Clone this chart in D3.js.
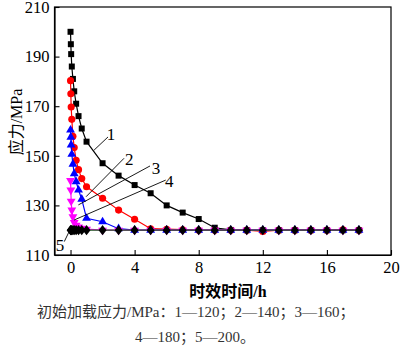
<!DOCTYPE html>
<html><head><meta charset="utf-8">
<script src="https://cdn.jsdelivr.net/npm/d3@7"></script>
<style>
html,body{margin:0;padding:0;background:#fff;}
text{font-family:"Liberation Serif","Times New Roman","Noto Sans CJK SC",serif;}
</style></head>
<body><svg id="c" width="400" height="347"></svg>
<script>
const times = [0, 0.02, 0.04, 0.08, 0.15, 0.23, 0.35, 0.5, 0.7, 1.0, 2, 3, 4, 5, 6, 7, 8, 9, 10, 11, 12, 13, 14, 15, 16, 17, 18];
const s1 = [200, 195, 191, 186, 181, 176, 171, 166, 161, 155.7, 147, 142, 138.2, 134.9, 130, 127.1, 124.5, 121, 120.1, 120, 120, 120, 120, 120, 120, 120, 120];
const s2 = [180.3, 175, 169.7, 164.7, 157.9, 153.3, 148.2, 144.4, 140.8, 137.5, 132.9, 128.1, 124.4, 120.6, 120.4, 120.2, 120, 120, 120, 120, 119.5, 120, 120, 120, 120, 120.2, 120];
const s3 = [160.4, 157.5, 154.4, 150.6, 146.6, 142.8, 139.6, 136.2, 132.5, 124.8, 123.4, 120.6, 120, 120, 120, 120, 120, 120, 120, 120, 120, 120, 120, 120, 120, 120, 120];
const s4 = [140, 136.2, 131.7, 128.1, 125.4, 123.1, 122, 121.3, 120.8, 120.4, 120, 120, 120, 120, 120, 120, 120, 120, 120, 120, 120, 120, 120, 120, 120, 120, 120];
const s5 = [120, 120, 120, 120, 120, 120, 120, 120, 120, 120, 120, 120, 120, 120, 120, 120, 120, 120, 120, 120, 120, 120, 120, 120, 120, 120, 120];
const xTicks = [0, 4, 8, 12, 16, 20];
const yTicks = [110, 130, 150, 170, 190, 210];
const labelNames = ["1", "2", "3", "4", "5"];
// annotation label centers and leader lines in data units
const labelX = [2.53, 3.67, 5.33, 6.16, -0.66];
const labelY = [158.8, 148.6, 145.0, 139.8, 114.0];
const leadFromX = [1.47, 0.97, 0.49, 0.22, -0.39];
const leadFromY = [152.3, 133.5, 130.2, 124.1, 115.4];
const leadToX = [2.34, 3.34, 4.96, 5.94, -0.09];
const leadToY = [157.6, 149.0, 145.9, 140.2, 119.4];
const xTitle = "时效时间/h";
const yTitle = "应力/MPa";
const caption1 = "初始加载应力/MPa：1—120；2—140；3—160；";
const caption2 = "4—180；5—200。";

const svg = d3.select("#c");
const L = 54.5, R = 391, T = 7, B = 255;
const x = d3.scaleLinear().domain([-1, 20]).range([L, R]);
const y = d3.scaleLinear().domain([110, 210]).range([B, T]);

// frame
svg.append("rect").attr("x", L).attr("y", T).attr("width", R - L).attr("height", B - T)
  .attr("fill", "none").attr("stroke", "#000").attr("stroke-width", 1.2);

const xa = svg.append("g").attr("transform", `translate(0,${B})`)
  .call(d3.axisBottom(x).tickValues(xTicks).tickSizeInner(-5).tickSizeOuter(0).tickPadding(6));
const ya = svg.append("g").attr("transform", `translate(${L},0)`)
  .call(d3.axisLeft(y).tickValues(yTicks).tickSizeInner(-5).tickSizeOuter(0).tickPadding(5));
[xa, ya].forEach(a => {
  a.select(".domain").attr("stroke", "#000").attr("stroke-width", 1.2);
  a.selectAll(".tick line").attr("stroke", "#000").attr("stroke-width", 1.1);
  a.selectAll(".tick text").attr("font-size", "16.5px").attr("fill", "#000")
    .style("font-family", '"Liberation Serif",serif');
});

const series = [
  {v: s1, line: "#000", fill: "#000", sym: d3.symbolSquare, size: 36},
  {v: s2, line: "#ff0000", fill: "#ff0000", sym: d3.symbolCircle, size: 40},
  {v: s3, line: "#0000ff", fill: "#0000ff", sym: d3.symbolTriangle, size: 34},
  {v: s4, line: "#ff00ff", fill: "#ff00ff", sym: d3.symbolTriangle, size: 34, rot: 180},
  {v: s5, line: "#1f5a1f", fill: "#000", sym: d3.symbolDiamond, size: 34}
];
const lineGen = d3.line().x(d => x(d[0])).y(d => y(d[1]));
series.forEach(s => {
  const pts = times.map((t, i) => [t, s.v[i]]);
  svg.append("path").attr("d", lineGen(pts)).attr("fill", "none")
    .attr("stroke", s.line).attr("stroke-width", 1.2);
  const sym = d3.symbol().type(s.sym).size(s.size);
  svg.append("g").selectAll("path").data(pts).join("path")
    .attr("d", sym)
    .attr("transform", d => `translate(${x(d[0])},${y(d[1])})` + (s.rot ? ` rotate(${s.rot})` : "") + (s.sym === d3.symbolDiamond ? " scale(1.25,0.95)" : ""))
    .attr("fill", s.fill);
});

// annotations
labelNames.forEach((n, i) => {
  svg.append("line")
    .attr("x1", x(leadFromX[i])).attr("y1", y(leadFromY[i]))
    .attr("x2", x(leadToX[i])).attr("y2", y(leadToY[i]))
    .attr("stroke", "#000").attr("stroke-width", 0.9);
  svg.append("text").attr("x", x(labelX[i])).attr("y", y(labelY[i]))
    .attr("dy", "0.33em").attr("text-anchor", "middle")
    .attr("font-size", "17px").attr("fill", "#000").text(n);
});

// titles
svg.append("text").attr("x", 228).attr("y", 291).attr("dy", "0.35em")
  .attr("text-anchor", "middle").attr("font-size", "16px").attr("font-weight", "bold")
  .attr("fill", "#000").text(xTitle);
svg.append("text").attr("transform", "translate(16,122) rotate(-90)").attr("dy", "0.35em")
  .attr("text-anchor", "middle").attr("font-size", "16px").attr("fill", "#000").text(yTitle);

svg.append("text").attr("x", 37).attr("y", 312).attr("dy", "0.35em")
  .attr("font-size", "15px").attr("fill", "#333").text(caption1);
svg.append("text").attr("x", 135).attr("y", 337).attr("dy", "0.35em")
  .attr("font-size", "15px").attr("fill", "#333").text(caption2);
</script></body></html>
